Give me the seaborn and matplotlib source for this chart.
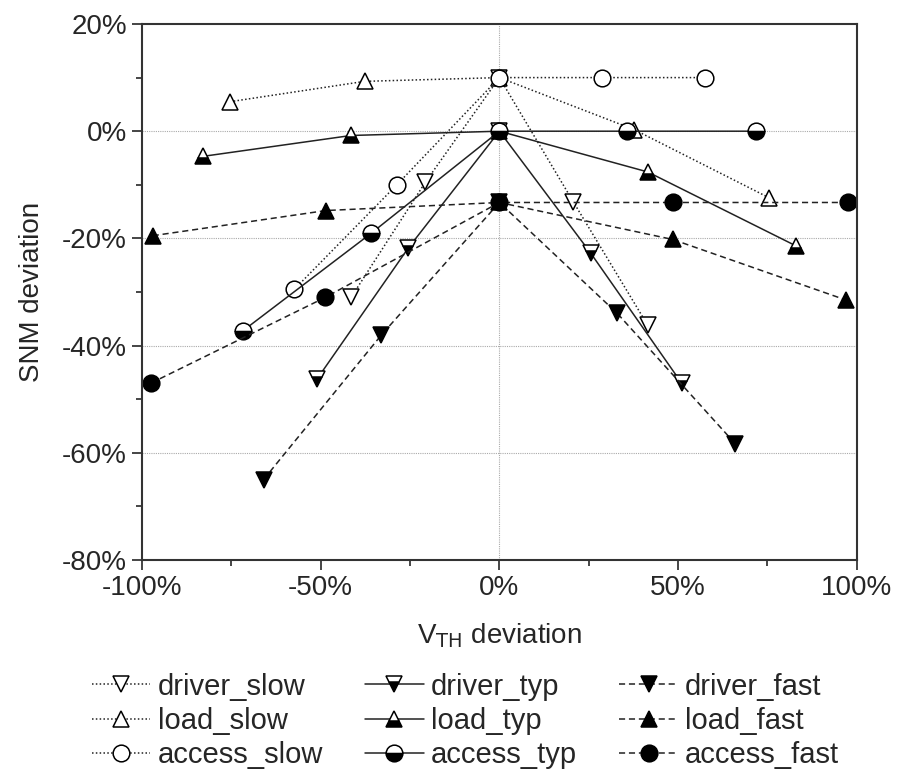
import numpy as np
import pandas as pd
import matplotlib
matplotlib.use('Agg')
import matplotlib.pyplot as plt
import seaborn as sns
from matplotlib.ticker import PercentFormatter, MultipleLocator

# values (percent)
driver_slow_x = [-41.5, -20.7, 0, 20.7, 41.5]
driver_slow_y = [-31, -9.5, 10, -13.2, -36.2]
driver_typ_x = [-51, -25.5, 0, 25.5, 51]
driver_typ_y = [-46.2, -21.8, 0, -22.7, -47]
driver_fast_x = [-66, -33, 0, 33, 66]
driver_fast_y = [-65, -38, -13.3, -34, -58.3]

load_slow_x = [-75.4, -37.7, 0, 37.7, 75.4]
load_slow_y = [5.5, 9.3, 10, 0.3, -12.4]
load_typ_x = [-83, -41.5, 0, 41.5, 83]
load_typ_y = [-4.7, -0.8, 0, -7.6, -21.4]
load_fast_x = [-97, -48.5, 0, 48.5, 97]
load_fast_y = [-19.5, -14.8, -13.3, -20.2, -31.5]

access_slow_x = [-57.4, -28.7, 0, 28.7, 57.4]
access_slow_y = [-29.5, -10, 10, 10, 10]
access_typ_x = [-71.7, -35.8, 0, 35.8, 71.7]
access_typ_y = [-37.2, -19, 0, 0, 0]
access_fast_x = [-97.5, -48.7, 0, 48.7, 97.5]
access_fast_y = [-47, -31, -13.3, -13.3, -13.3]

sns.set_style('ticks')
plt.rcParams['font.family'] = ['Liberation Sans', 'DejaVu Sans']
plt.rcParams['axes.unicode_minus'] = False
plt.rcParams['font.size'] = 20

fig = plt.figure(figsize=(8.99, 7.74), dpi=100)
ax = fig.add_axes([0.158, 0.2765, 0.795, 0.6925])

dot = (0, (1, 1.5))
dash = (0, (4, 2.5))

series = [
    ('driver_slow', driver_slow_x, driver_slow_y, 'v', 'none', dot),
    ('load_slow', load_slow_x, load_slow_y, '^', 'none', dot),
    ('access_slow', access_slow_x, access_slow_y, 'o', 'none', dot),
    ('driver_typ', driver_typ_x, driver_typ_y, 'v', 'bottom', '-'),
    ('load_typ', load_typ_x, load_typ_y, '^', 'bottom', '-'),
    ('access_typ', access_typ_x, access_typ_y, 'o', 'bottom', '-'),
    ('driver_fast', driver_fast_x, driver_fast_y, 'v', 'full', dash),
    ('load_fast', load_fast_x, load_fast_y, '^', 'full', dash),
    ('access_fast', access_fast_x, access_fast_y, 'o', 'full', dash),
]

for name, xs, ys, mk, fill, ls in series:
    df = pd.DataFrame({'x': xs, 'y': ys})
    if fill == 'none':
        extra = dict(markerfacecolor='white')
    elif fill == 'bottom':
        extra = dict(fillstyle='bottom', markerfacecolor='black',
                     markerfacecoloralt='white')
    else:
        extra = dict(markerfacecolor='black')
    sns.lineplot(data=df, x='x', y='y', ax=ax, color='#222222',
                 linestyle=ls, linewidth=1.1, marker=mk, markersize=12,
                 markeredgecolor='black', markeredgewidth=1.1,
                 label=name, **extra)

# grid
for yv in [0, -20, -40, -60]:
    ax.axhline(yv, color='#aaaaaa', linestyle=(0, (1, 1)), linewidth=0.8, zorder=0)
ax.axvline(0, color='#aaaaaa', linestyle=(0, (1, 1)), linewidth=0.8, zorder=0)

ax.set_xlim(-100, 100)
ax.set_ylim(-80, 20)
ax.xaxis.set_major_locator(MultipleLocator(50))
ax.xaxis.set_minor_locator(MultipleLocator(25))
ax.yaxis.set_major_locator(MultipleLocator(20))
ax.yaxis.set_minor_locator(MultipleLocator(10))
ax.xaxis.set_major_formatter(PercentFormatter(decimals=0))
ax.yaxis.set_major_formatter(PercentFormatter(decimals=0))
ax.tick_params(which='major', direction='out', length=7, width=1.2,
               labelsize=20, pad=4)
ax.tick_params(which='minor', direction='out', length=4, width=1.2)
for s in ax.spines.values():
    s.set_linewidth(1.5)
    s.set_color('#333333')

ax.set_xlabel('V$_{\\mathrm{TH}}$ deviation', fontsize=20, labelpad=14)
ax.set_ylabel('SNM deviation', fontsize=20, labelpad=12)

ax.legend(loc='upper left', bbox_to_anchor=(-0.07, -0.21), ncol=3,
          frameon=False, fontsize=21, handlelength=2.0, handletextpad=0.25,
          labelspacing=0.22, columnspacing=1.45, borderaxespad=0,
          borderpad=0)

fig.savefig('out.png', dpi=100)
